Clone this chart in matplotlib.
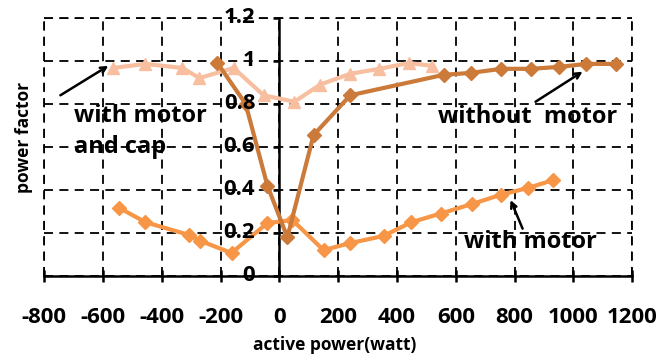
import matplotlib
matplotlib.use('Agg')
import matplotlib.pyplot as plt

plt.rcParams['font.family'] = ['Open Sans', 'DejaVu Sans']
plt.rcParams['font.weight'] = 'bold'
plt.rcParams['axes.unicode_minus'] = False

# with motor and cap
cap_x = [-565, -456, -330, -272, -156, -54, 51, 139, 241, 340, 439, 520]
cap_y = [0.967, 0.986, 0.967, 0.92, 0.967, 0.84, 0.81, 0.89, 0.94, 0.963, 0.99, 0.977]

# without motor
nom_x = [-211, -115, -41, 27, 116, 241, 558, 650, 755, 854, 952, 1044, 1146]
nom_y = [0.99, 0.8, 0.42, 0.18, 0.655, 0.84, 0.935, 0.944, 0.963, 0.963, 0.972, 0.986, 0.986]

# with motor
mot_x = [-544, -456, -306, -269, -163, -41, 44, 150, 241, 354, 449, 548, 656, 752, 847, 932]
mot_y = [0.316, 0.25, 0.19, 0.163, 0.107, 0.246, 0.26, 0.12, 0.153, 0.186, 0.25, 0.29,
         0.335, 0.377, 0.41, 0.446]

xticks = [-800, -600, -400, -200, 0, 200, 400, 600, 800, 1000, 1200]
yticks = [0, 0.2, 0.4, 0.6, 0.8, 1, 1.2]
ytick_labels = ['0', '0.2', '0.4', '0.6', '0.8', '1', '1.2']

fig = plt.figure(figsize=(6.6, 3.57), dpi=100)
ax = fig.add_axes([0.067, 0.227, 0.891, 0.723])

dash = (0, (5, 3.5))
ax.plot(cap_x, cap_y, color='#F7BE9F', lw=3, marker='^', ms=9, zorder=3)
ax.plot(nom_x, nom_y, color='#CB7A3A', lw=3, marker='D', ms=7, zorder=4)
ax.plot(mot_x, mot_y, color='#F79646', lw=3, marker='D', ms=7, zorder=3)

ax.set_xlim(-800, 1200)
ax.set_ylim(0, 1.2)
ax.set_xticks(xticks)
ax.set_yticks(yticks)
ax.set_yticklabels([])

ax.grid(True, color='black', ls=dash, lw=1.3)
for s in ['top', 'right']:
    ax.spines[s].set_visible(False)
ax.spines['left'].set_position(('data', 0))
ax.spines['left'].set_linewidth(1.8)
ax.spines['bottom'].set_linewidth(1.8)
ax.plot([-800, -800], [0, 1.2], color='black', ls=dash, lw=1.3, clip_on=False)
ax.plot([-800, 1200], [1.2, 1.2], color='black', ls=dash, lw=1.3, clip_on=False)
ax.plot([1200, 1200], [0, 1.2], color='black', ls=dash, lw=1.3, clip_on=False)

ax.tick_params(axis='x', direction='inout', length=9, width=1.8, pad=18, labelsize=16)
ax.tick_params(axis='y', direction='out', length=4, width=1.8)
for lab in ax.get_xticklabels():
    lab.set_fontweight('bold')

# y tick labels on top of the lines
for v, t in zip(yticks, ytick_labels):
    ax.text(-82, v, t, ha='right', va='center', fontsize=16, fontweight='bold',
            zorder=10, clip_on=False)

ax.text(-700, 0.67, 'with motor\nand cap', fontsize=17, fontweight='bold',
        ha='left', va='center', linespacing=1.4)
ax.annotate('', xy=(-582, 0.977), xytext=(-745, 0.84),
            arrowprops=dict(arrowstyle='->', color='black', lw=1.8, shrinkA=0, shrinkB=0))
ax.text(844, 0.74, 'without  motor', fontsize=17, fontweight='bold',
        ha='center', va='center')
ax.annotate('', xy=(1031, 0.95), xytext=(871, 0.81),
            arrowprops=dict(arrowstyle='->', color='black', lw=1.8, shrinkA=0, shrinkB=0))
ax.text(854, 0.158, 'with motor', fontsize=17, fontweight='bold',
        ha='center', va='center')
ax.annotate('', xy=(786, 0.353), xytext=(827, 0.22),
            arrowprops=dict(arrowstyle='->', color='black', lw=1.8, shrinkA=0, shrinkB=0))

fig.text(24 / 660, 1 - 137 / 357, 'power factor', rotation=90, ha='center', va='center',
         fontsize=12.5, fontweight='bold')
fig.text(335 / 660, 1 - 345 / 357, 'active power(watt)', ha='center', va='center',
         fontsize=12.5, fontweight='bold')

fig.savefig('out.png', dpi=100)
